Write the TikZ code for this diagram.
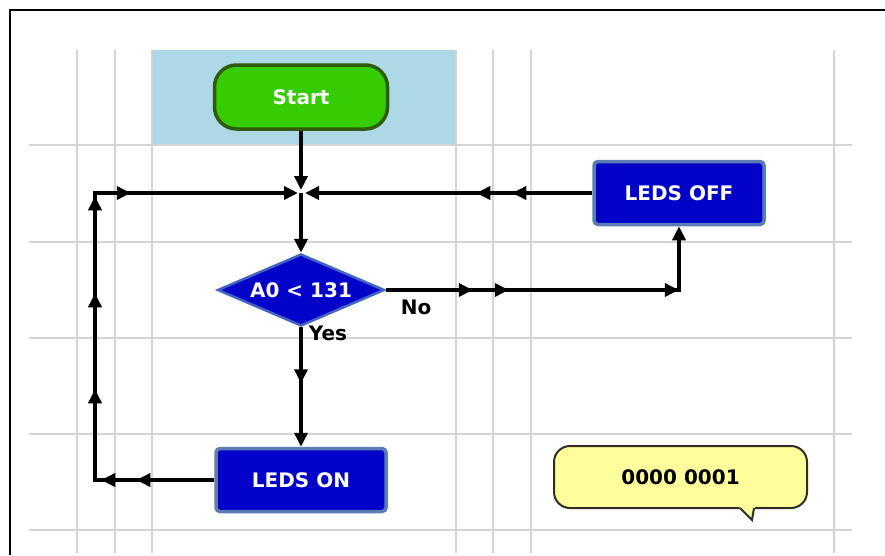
\documentclass[tikz,border=0pt]{standalone}
\usepackage{fontspec}
\setmainfont{DejaVu Sans}
\usetikzlibrary{shapes.geometric,arrows.meta,decorations.markings}
\definecolor{bgblue}{HTML}{ADD8E6}
\definecolor{gridgray}{HTML}{D4D4D4}
\definecolor{startgreen}{HTML}{36CC02}
\definecolor{startedge}{HTML}{2F5C0A}
\definecolor{procblue}{HTML}{0202C8}
\definecolor{procedge}{HTML}{5C7CB4}
\definecolor{decedge}{HTML}{4464C4}
\definecolor{noteyellow}{HTML}{FFFF9C}
\definecolor{noteedge}{HTML}{2E2E22}
\begin{document}
\begin{tikzpicture}[x=1pt,y=-1pt,
  >={Triangle[length=14pt,width=13pt]},
  lbl/.style={font=\fontsize{20}{24}\selectfont\bfseries},
  startbox/.style={lbl, rectangle, rounded corners=22pt, minimum width=173pt, minimum height=64pt,
    fill=startgreen, draw=startedge, line width=3.5pt, text=white},
  procbox/.style={lbl, rectangle, rounded corners=4pt, minimum width=170pt, minimum height=63pt,
    fill=procblue, draw=procedge, line width=3.5pt, text=white},
  decbox/.style={lbl, diamond, aspect=2.3, minimum width=167pt, minimum height=72pt, inner sep=0pt,
    fill=procblue, draw=decedge, line width=2.5pt, text=white},
  notebox/.style={lbl, rectangle, rounded corners=16pt, minimum width=253pt, minimum height=62pt,
    fill=noteyellow, draw=noteedge, line width=2pt, text=black},
  tag/.style={lbl, text=black, inner sep=0pt},
  conn/.style={line width=3.6pt, black},
  amark/.style={postaction={decorate, decoration={markings, mark=at position #1 with {\arrow{>}}}}},
  gridline/.style={gridgray, line width=1.2pt}
]
\useasboundingbox (0,0) rectangle (885,555);
% frame (top and left edges visible)
\draw[line width=2pt] (10,555) -- (10,10) -- (885,10);
% highlighted start area
\fill[bgblue] (152,50) rectangle (456,145);
% grid
\foreach \gx in {77,115,152,456,493,531,834} \draw[gridline] (\gx,50) -- (\gx,553);
\foreach \gy in {145,242,338,434,530} \draw[gridline] (29,\gy) -- (852,\gy);

% nodes
\node[startbox] (start) at (301,97) {Start};
\node[procbox] (off) at (679,193) {LEDS OFF};
\node[decbox] (dec) at (301,290) {A0 < 131};
\node[procbox] (on) at (301,480) {LEDS ON};
\coordinate (J) at (301,193);
\coordinate (lx) at (95,193);
\node[tag] (no) at (416,307) {No};
\node[tag] (yes) at (328,333) {Yes};

% connectors
\draw[conn, ->, shorten >=3pt] (start.south) -- (J);
\draw[conn, ->] (J) -- (dec.north);
\draw[conn, ->, amark=87pt, amark=123pt, amark=293pt]
  (dec.east) -- (dec.east -| off.south) -- (off.south);
\draw[conn, ->, shorten >=4pt, amark=80pt, amark=116pt] (off.west) -- (J);
\draw[conn, ->, amark=56pt] (dec.south) -- (on.north);
\draw[conn, ->, shorten >=3pt, amark=78pt, amark=113pt, amark=210pt, amark=306pt, amark=403pt, amark=442pt]
  (on.west) -- (lx |- on.west) -- (lx) -- (J);

% callout
\node[notebox] (msg) at (680.5,477) {0000 0001};
\fill[noteyellow] (739,507) -- (752,520) -- (755,507) -- cycle;
\draw[noteedge, line width=2pt, line join=miter] (740,508) -- (752,520) -- (754,508);
\end{tikzpicture}
\end{document}
